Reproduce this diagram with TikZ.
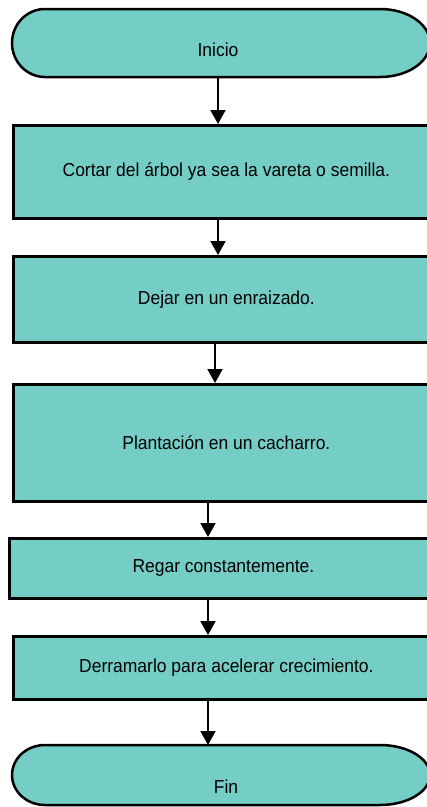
\documentclass[tikz,border=0pt]{standalone}
\usepackage{fontspec}
\setmainfont[FakeStretch=0.93]{Liberation Sans}
\usetikzlibrary{arrows.meta}
\definecolor{fillc}{HTML}{75CEC6}
\begin{document}
\begin{tikzpicture}[x=1pt,y=1pt,
  box/.style={draw=black,line width=2.8pt,fill=fillc,anchor=north west,inner sep=0pt,
    font=\fontsize{18.8}{21}\selectfont},
  term/.style={draw=black,line width=2.5pt,fill=fillc},
  tarea/.style={inner sep=0pt,anchor=north west},
  lbl/.style={font=\fontsize{18.8}{21}\selectfont,inner sep=0pt},
  arr/.style={line width=2pt,-{Triangle[length=14pt,width=15pt]}}]
\useasboundingbox (0,0) rectangle (427,-807);
\begin{scope}
\clip (0,0) rectangle (427,-807);
% start terminator
\node[tarea,minimum width=418pt,minimum height=68pt] (start) at (12,-9) {};
\draw[term] (45,-9) -- (380,-9)
  arc[start angle=90,end angle=-90,x radius=50,y radius=34] -- (45,-77)
  arc[start angle=270,end angle=90,x radius=33,y radius=34] -- cycle;
\node[lbl] (starttext) at (218,-50) {Inicio};
% boxes
\node[box,minimum width=426pt,minimum height=93pt] (b1) at (12,-124) {Cortar del árbol ya sea la vareta o semilla.};
\node[box,minimum width=426pt,minimum height=86pt] (b2) at (12,-255) {Dejar en un enraizado.};
\node[box,minimum width=426pt,minimum height=117pt] (b3) at (12,-383) {Plantación en un cacharro.};
\node[box,minimum width=428pt,minimum height=60pt] (b4) at (8,-537) {Regar constantemente.};
\node[box,minimum width=426pt,minimum height=63pt] (b5) at (12,-635) {Derramarlo para acelerar crecimiento.};
% end terminator
\node[tarea,minimum width=418pt,minimum height=60pt] (fin) at (12,-745) {};
\draw[term] (45,-745) -- (380,-745)
  arc[start angle=90,end angle=-90,x radius=50,y radius=30] -- (45,-805)
  arc[start angle=270,end angle=90,x radius=33,y radius=30] -- cycle;
\node[lbl] (fintext) at (226,-787) {Fin};
% arrows
\draw[arr] ([xshift=206pt]start.south west) -- ([xshift=206pt]b1.north west);
\draw[arr] ([xshift=206pt]b1.south west) -- ([xshift=206pt]b2.north west);
\draw[arr] ([xshift=203pt]b2.south west) -- ([xshift=203pt]b3.north west);
\draw[arr] ([xshift=196pt]b3.south west) -- ([xshift=200pt]b4.north west);
\draw[arr] ([xshift=200pt]b4.south west) -- ([xshift=196pt]b5.north west);
\draw[arr] ([xshift=196pt]b5.south west) -- ([xshift=196pt]fin.north west);
\end{scope}
\end{tikzpicture}
\end{document}
